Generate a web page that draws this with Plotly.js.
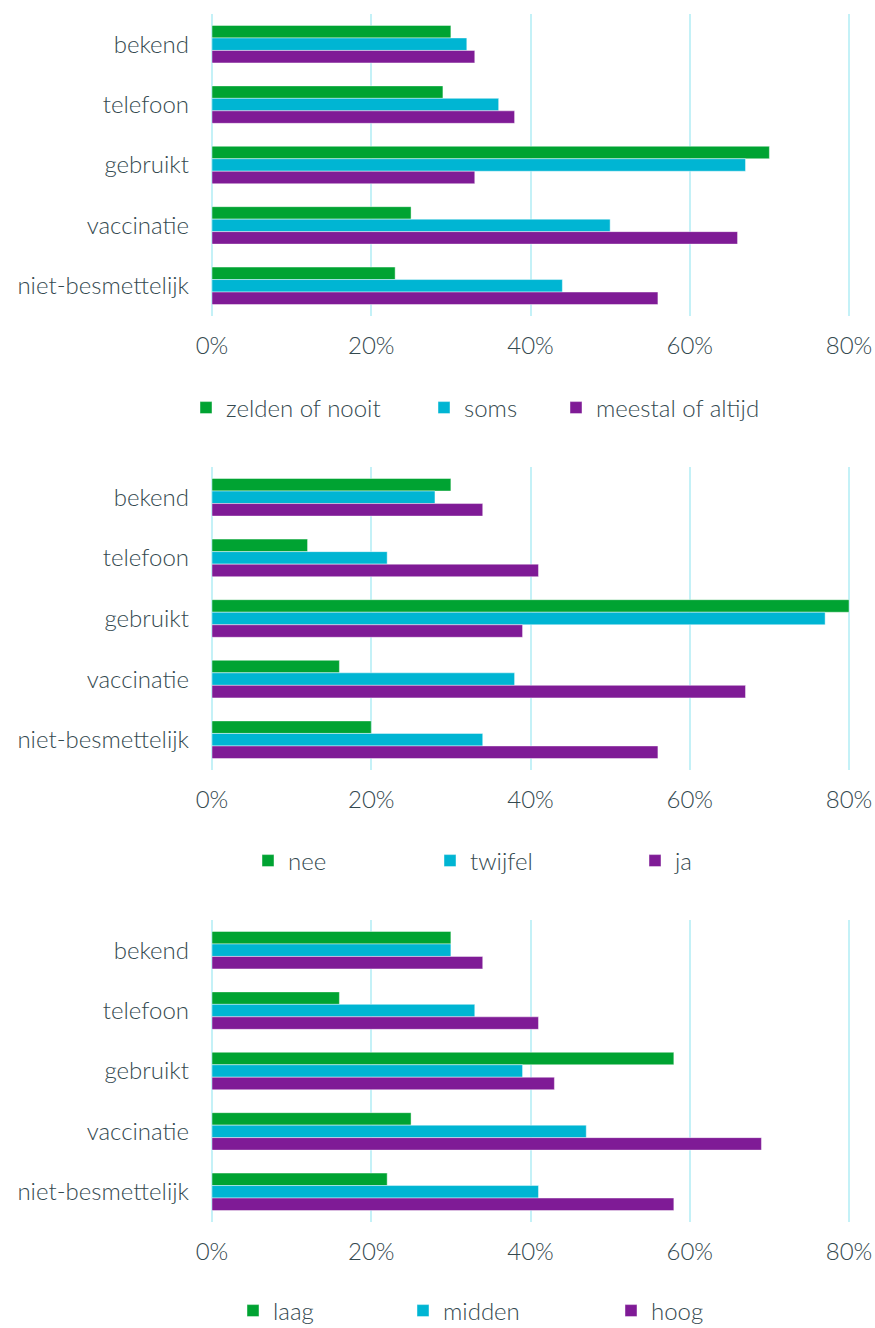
<!DOCTYPE html>
<html>
<head>
<meta charset="utf-8">
<script src="https://cdn.plot.ly/plotly-3.0.1.min.js"></script>
<style>html,body{margin:0;padding:0;background:#fff}#chart{width:875px;height:1328px}</style>
</head>
<body>
<div id="chart"></div>
<script>
// Categories (top to bottom)
const categories = ["bekend", "telefoon", "gebruikt", "vaccinatie", "niet-besmettelijk"];

// Panel 1
const p1Names = ["zelden of nooit", "soms", "meestal of altijd"];
const p1Zelden = [30, 29, 70, 25, 23];
const p1Soms = [32, 36, 67, 50, 44];
const p1Meestal = [33, 38, 33, 66, 56];

// Panel 2
const p2Names = ["nee", "twijfel", "ja"];
const p2Nee = [30, 12, 80, 16, 20];
const p2Twijfel = [28, 22, 77, 38, 34];
const p2Ja = [34, 41, 39, 67, 56];

// Panel 3
const p3Names = ["laag", "midden", "hoog"];
const p3Laag = [30, 16, 58, 25, 22];
const p3Midden = [30, 33, 39, 47, 41];
const p3Hoog = [34, 41, 43, 69, 58];

const tickVals = [0, 20, 40, 60, 80];
const tickLabels = ["0%", "20%", "40%", "60%", "80%"];

const colors = ["#00a332", "#00b5d3", "#7f1b96"];
const textColor = "#34494f";
const gridColor = "#c4f1f7";
const FONT = "Lato, 'Open Sans', sans-serif";
const FS = 24;

const panels = [
  {names: p1Names, series: [p1Zelden, p1Soms, p1Meestal], widths: [193, 87, 220]},
  {names: p2Names, series: [p2Nee, p2Twijfel, p2Ja], widths: [137, 160, 80]},
  {names: p3Names, series: [p3Laag, p3Midden, p3Hoog], widths: [125, 163, 100]}
];

const traces = [];
panels.forEach((p, pi) => {
  const ax = pi === 0 ? "" : String(pi + 1);
  p.series.forEach((vals, si) => {
    traces.push({
      type: "bar",
      orientation: "h",
      name: p.names[si],
      x: vals,
      y: categories,
      xaxis: "x" + ax,
      yaxis: "y" + ax,
      legend: "legend" + ax,
      legendwidth: p.widths[si],
      marker: {color: colors[si], line: {color: "rgba(255,255,255,0.55)", width: 0.8}},
      hoverinfo: "x+y+name"
    });
  });
});

// pixel geometry helpers
const W = 875, H = 1328;
const xDom = [212 / W, 853 / W];
const yDoms = [
  [1 - 316 / H, 1 - 14 / H],
  [1 - 770 / H, 1 - 467 / H],
  [1 - 1222 / H, 1 - 920 / H]
];
const legendY = [1 - 408 / H, 1 - 861 / H, 1 - 1311 / H];
const legendX = [186 / W, 248 / W, 233 / W];

const layout = {
  width: W, height: H,
  margin: {l: 0, r: 0, t: 0, b: 0, autoexpand: false},
  paper_bgcolor: "#fff",
  plot_bgcolor: "#fff",
  barmode: "group",
  bargap: 0.38,
  bargroupgap: 0,
  font: {family: FONT, color: textColor, size: FS, weight: 300},
  showlegend: true
};

for (let i = 0; i < 3; i++) {
  const s = i === 0 ? "" : String(i + 1);
  layout["xaxis" + s] = {
    domain: xDom,
    anchor: "y" + s,
    range: [0, 80.5],
    tickmode: "array",
    tickvals: tickVals,
    ticktext: tickLabels,
    showgrid: true,
    gridcolor: gridColor,
    gridwidth: 2,
    zeroline: true,
    zerolinecolor: gridColor,
    zerolinewidth: 2,
    showline: false,
    ticks: "",
    ticklabelstandoff: 13,
    tickfont: {family: FONT, size: FS, color: textColor, weight: 300},
    automargin: false,
    fixedrange: true
  };
  layout["yaxis" + s] = {
    domain: yDoms[i],
    anchor: "x" + s,
    autorange: "reversed",
    type: "category",
    showgrid: false,
    zeroline: false,
    showline: false,
    ticks: "",
    ticklabelstandoff: 22,
    tickfont: {family: FONT, size: FS, color: textColor, weight: 300},
    automargin: false,
    fixedrange: true
  };
  layout["legend" + s] = {
    orientation: "h",
    x: legendX[i],
    xanchor: "left",
    y: legendY[i],
    yanchor: "middle",
    font: {family: FONT, size: FS, color: textColor, weight: 300},
    bgcolor: "rgba(0,0,0,0)",
    traceorder: "normal",
    itemclick: false,
    itemdoubleclick: false
  };
}

Plotly.newPlot("chart", traces, layout, {displayModeBar: false});
</script>
</body>
</html>
